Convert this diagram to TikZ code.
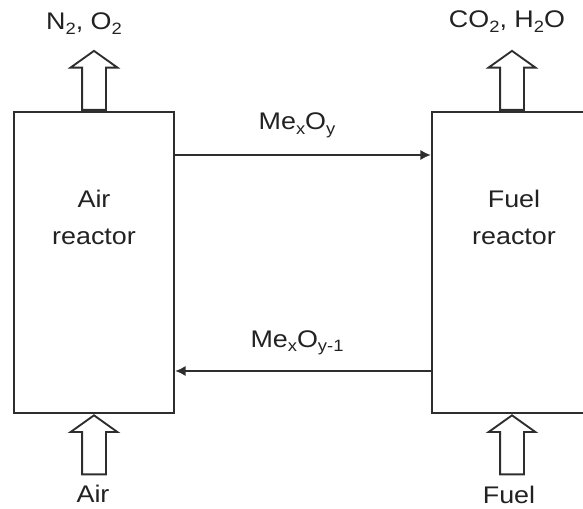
\documentclass[tikz,border=0pt]{standalone}
\usepackage{fontspec}
\setmainfont[FakeStretch=1.12]{Liberation Sans}
\usetikzlibrary{arrows.meta,positioning,shapes.arrows}
\definecolor{Trazo}{HTML}{2E2E2E}
\definecolor{Texto}{HTML}{222222}
\newcommand{\idx}[1]{\raisebox{-0.2em}{\fontsize{14}{14}\selectfont #1}}

\tikzset{
  reactor/.style={draw=Trazo,line width=2pt,minimum width=4.8cm,minimum height=9.03cm},
  hollow/.style={single arrow,draw=Trazo,line width=1.6pt,rotate=90,inner xsep=0pt,inner ysep=0.33cm,
    minimum height=1.77cm,single arrow head extend=0.345cm,
    single arrow tip angle=109,single arrow head indent=0pt},
  flow/.style={-{Latex[length=9pt,width=9pt]},line width=2pt,draw=Trazo},
  etiqueta/.style={text=Texto,font=\fontsize{20.5}{31}\selectfont,inner sep=0pt,anchor=base},
  rotulo/.style={text=Texto,font=\fontsize{20.5}{31}\selectfont,inner sep=0pt,align=center},
}

\begin{document}
\begin{tikzpicture}[x=0.03cm,y=-0.03cm]
        \useasboundingbox (0,0) rectangle (583,509);
        \clip (0,0) rectangle (583,509);
        % reactors
        \node[reactor] (airreactor) at (94,262.5) {};
        \node[reactor] (fuelreactor) at (512,262.5) {};
        \node[rotulo] (airtext) at (94,217.5) {Air\\reactor};
        \node[rotulo] (fueltext) at (514,217.5) {Fuel\\reactor};
        % streams in and out
        \node[hollow,anchor=tail] (outair) at (airreactor.north) {};
        \node[hollow,anchor=tail] (outfuel) at (fuelreactor.north) {};
        \node[hollow,anchor=tip] (inair) at (airreactor.south) {};
        \node[hollow,anchor=tip] (infuel) at (fuelreactor.south) {};
        \node[etiqueta] (gasair) at (84,30) {N\idx{2}, O\idx{2}};
        \node[etiqueta] (gasfuel) at (507,28) {CO\idx{2}, H\idx{2}O};
        \node[etiqueta] (air) at (93,502) {Air};
        \node[etiqueta] (fuel) at (509,503) {Fuel};
        % oxygen carrier loop
        \node[etiqueta] (oxid) at (297,130) {Me\idx{x}O\idx{y}};
        \node[etiqueta] (red) at (297,347) {Me\idx{x}O\idx{y-1}};
        \draw[flow] (airreactor.east |- 0,155) -- (fuelreactor.west |- 0,155);
        \draw[flow] (fuelreactor.west |- 0,371) -- (airreactor.east |- 0,371);
      \end{tikzpicture}
\end{document}
